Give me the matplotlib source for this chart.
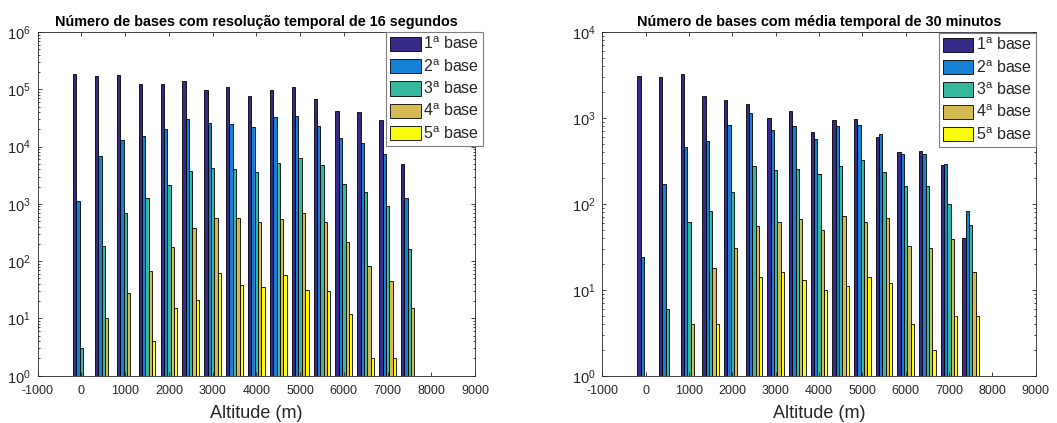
import matplotlib
matplotlib.use("Agg")
import matplotlib.pyplot as plt
import numpy as np
from matplotlib.ticker import NullFormatter

plt.rcParams['font.family'] = ['Liberation Sans', 'DejaVu Sans']
plt.rcParams['mathtext.fontset'] = 'custom'
plt.rcParams['mathtext.rm'] = 'Liberation Sans'
plt.rcParams['mathtext.it'] = 'Liberation Sans:italic'
plt.rcParams['mathtext.bf'] = 'Liberation Sans:bold'
plt.rcParams['axes.unicode_minus'] = False

# altitude bins (m)
altitudes = [0, 500, 1000, 1500, 2000, 2500, 3000, 3500,
             4000, 4500, 5000, 5500, 6000, 6500, 7000, 7500]

base_labels = [r'1$^{\mathrm{a}}$ base', r'2$^{\mathrm{a}}$ base',
               r'3$^{\mathrm{a}}$ base', r'4$^{\mathrm{a}}$ base',
               r'5$^{\mathrm{a}}$ base']
base_colors = ['#352a87', '#1481d4', '#36b89d', '#d7b952', '#f9fb0e']

# 16 s resolution counts, one list per cloud base (0 = no bases)
res16_b1 = [182000, 170000, 175000, 123000, 126000, 141000, 98000, 108000,
            75000, 98000, 110000, 68000, 41500, 40500, 29000, 4900]
res16_b2 = [1100, 6900, 12900, 15400, 19900, 30500, 25600, 24600,
            22100, 33500, 34400, 23300, 14000, 11500, 7500, 1250]
res16_b3 = [3, 182, 686, 1290, 2170, 3770, 4310, 4030,
            3670, 5200, 6350, 4730, 2260, 1620, 909, 161]
res16_b4 = [0, 10, 27.5, 66.5, 177, 375, 569, 569,
            484, 553, 686, 484, 214, 81, 45, 15]
res16_b5 = [0, 0, 0, 4, 15, 21, 61, 38,
            36, 58, 31, 30, 12, 2, 2, 0]

# 30 min average counts
avg30_b1 = [3100, 3010, 3240, 1790, 1630, 1470, 1000, 1210,
            689, 959, 976, 597, 402, 409, 284, 40]
avg30_b2 = [24, 169, 460, 545, 823, 1150, 726, 809,
            570, 809, 838, 647, 385, 378, 291, 83]
avg30_b3 = [0, 6, 61, 83, 139, 279, 248, 255,
            223, 279, 324, 235, 161, 161, 99, 57]
avg30_b4 = [0, 0, 4, 18, 30.5, 56, 61, 67,
            49.5, 73, 61, 68, 32.5, 30.5, 39, 16]
avg30_b5 = [0, 0, 0, 4, 0, 14, 16, 13,
            10, 11, 14, 12, 4, 2, 5, 5]

xticks = np.arange(-1000, 9001, 1000)
axis_col = '#262626'


def grouped_bars(ax, series, max_decade, title):
    x = np.array(altitudes, dtype=float)
    n = len(series)
    step = x[1] - x[0]
    group_w = min(0.8, n / (n + 1.5)) * step
    bar_w = group_w / n
    for i, vals in enumerate(series):
        v = np.array(vals, dtype=float)
        v = np.where(v > 0, v, np.nan)
        off = (i - (n - 1) / 2) * bar_w
        ax.bar(x + off, v, width=bar_w, color=base_colors[i],
               edgecolor='black', linewidth=0.6, label=base_labels[i],
               log=True)

    ax.set_yscale('log')
    ax.set_ylim(1, 10.0 ** max_decade)
    ax.set_yticks(10.0 ** np.arange(0, max_decade + 1))
    ax.yaxis.set_minor_formatter(NullFormatter())
    ax.set_xlim(-1000, 9000)
    ax.set_xticks(xticks)
    ax.set_xticklabels([str(t) for t in xticks])
    ax.set_title(title, fontsize=10.4, fontweight='bold', pad=4)
    ax.set_xlabel('Altitude (m)', fontsize=13, labelpad=5.5, color=axis_col)

    for s in ax.spines.values():
        s.set_color(axis_col)
        s.set_linewidth(0.6)
    ax.tick_params(which='both', direction='in', top=True, right=True,
                   color=axis_col, labelcolor=axis_col, width=0.6)
    ax.tick_params(which='major', length=3, labelsize=9)
    ax.tick_params(which='minor', length=1.6)
    ax.tick_params(axis='x', which='minor', bottom=False, top=False)
    ax.tick_params(axis='x', pad=7)
    ax.tick_params(axis='y', pad=5, labelsize=10.5)


fig = plt.figure(figsize=(10.57, 4.23), dpi=100)
ax1 = fig.add_axes([0.0357, 0.1118, 0.4137, 0.8125])
ax2 = fig.add_axes([0.5698, 0.1118, 0.4101, 0.8125])

grouped_bars(ax1, [res16_b1, res16_b2, res16_b3, res16_b4, res16_b5], 6,
             'Número de bases com resolução temporal de 16 segundos')
grouped_bars(ax2, [avg30_b1, avg30_b2, avg30_b3, avg30_b4, avg30_b5], 4,
             'Número de bases com média temporal de 30 minutos')

for ax, anchor in [(ax1, (483 / 1057, 1 - 31.7 / 423)),
                   (ax2, (1035.7 / 1057, 1 - 32.7 / 423))]:
    leg = ax.legend(loc='upper right', bbox_to_anchor=anchor,
                    bbox_transform=fig.transFigure, borderaxespad=0,
                    fontsize=11.5, fancybox=False, framealpha=1,
                    edgecolor='#7f7f7f', handlelength=1.88, handleheight=0.98,
                    labelspacing=0.36, handletextpad=0.15, borderpad=0.25)
    leg.get_frame().set_linewidth(0.8)
    for t in leg.get_texts():
        t.set_color(axis_col)

fig.savefig('out.png', dpi=100)
